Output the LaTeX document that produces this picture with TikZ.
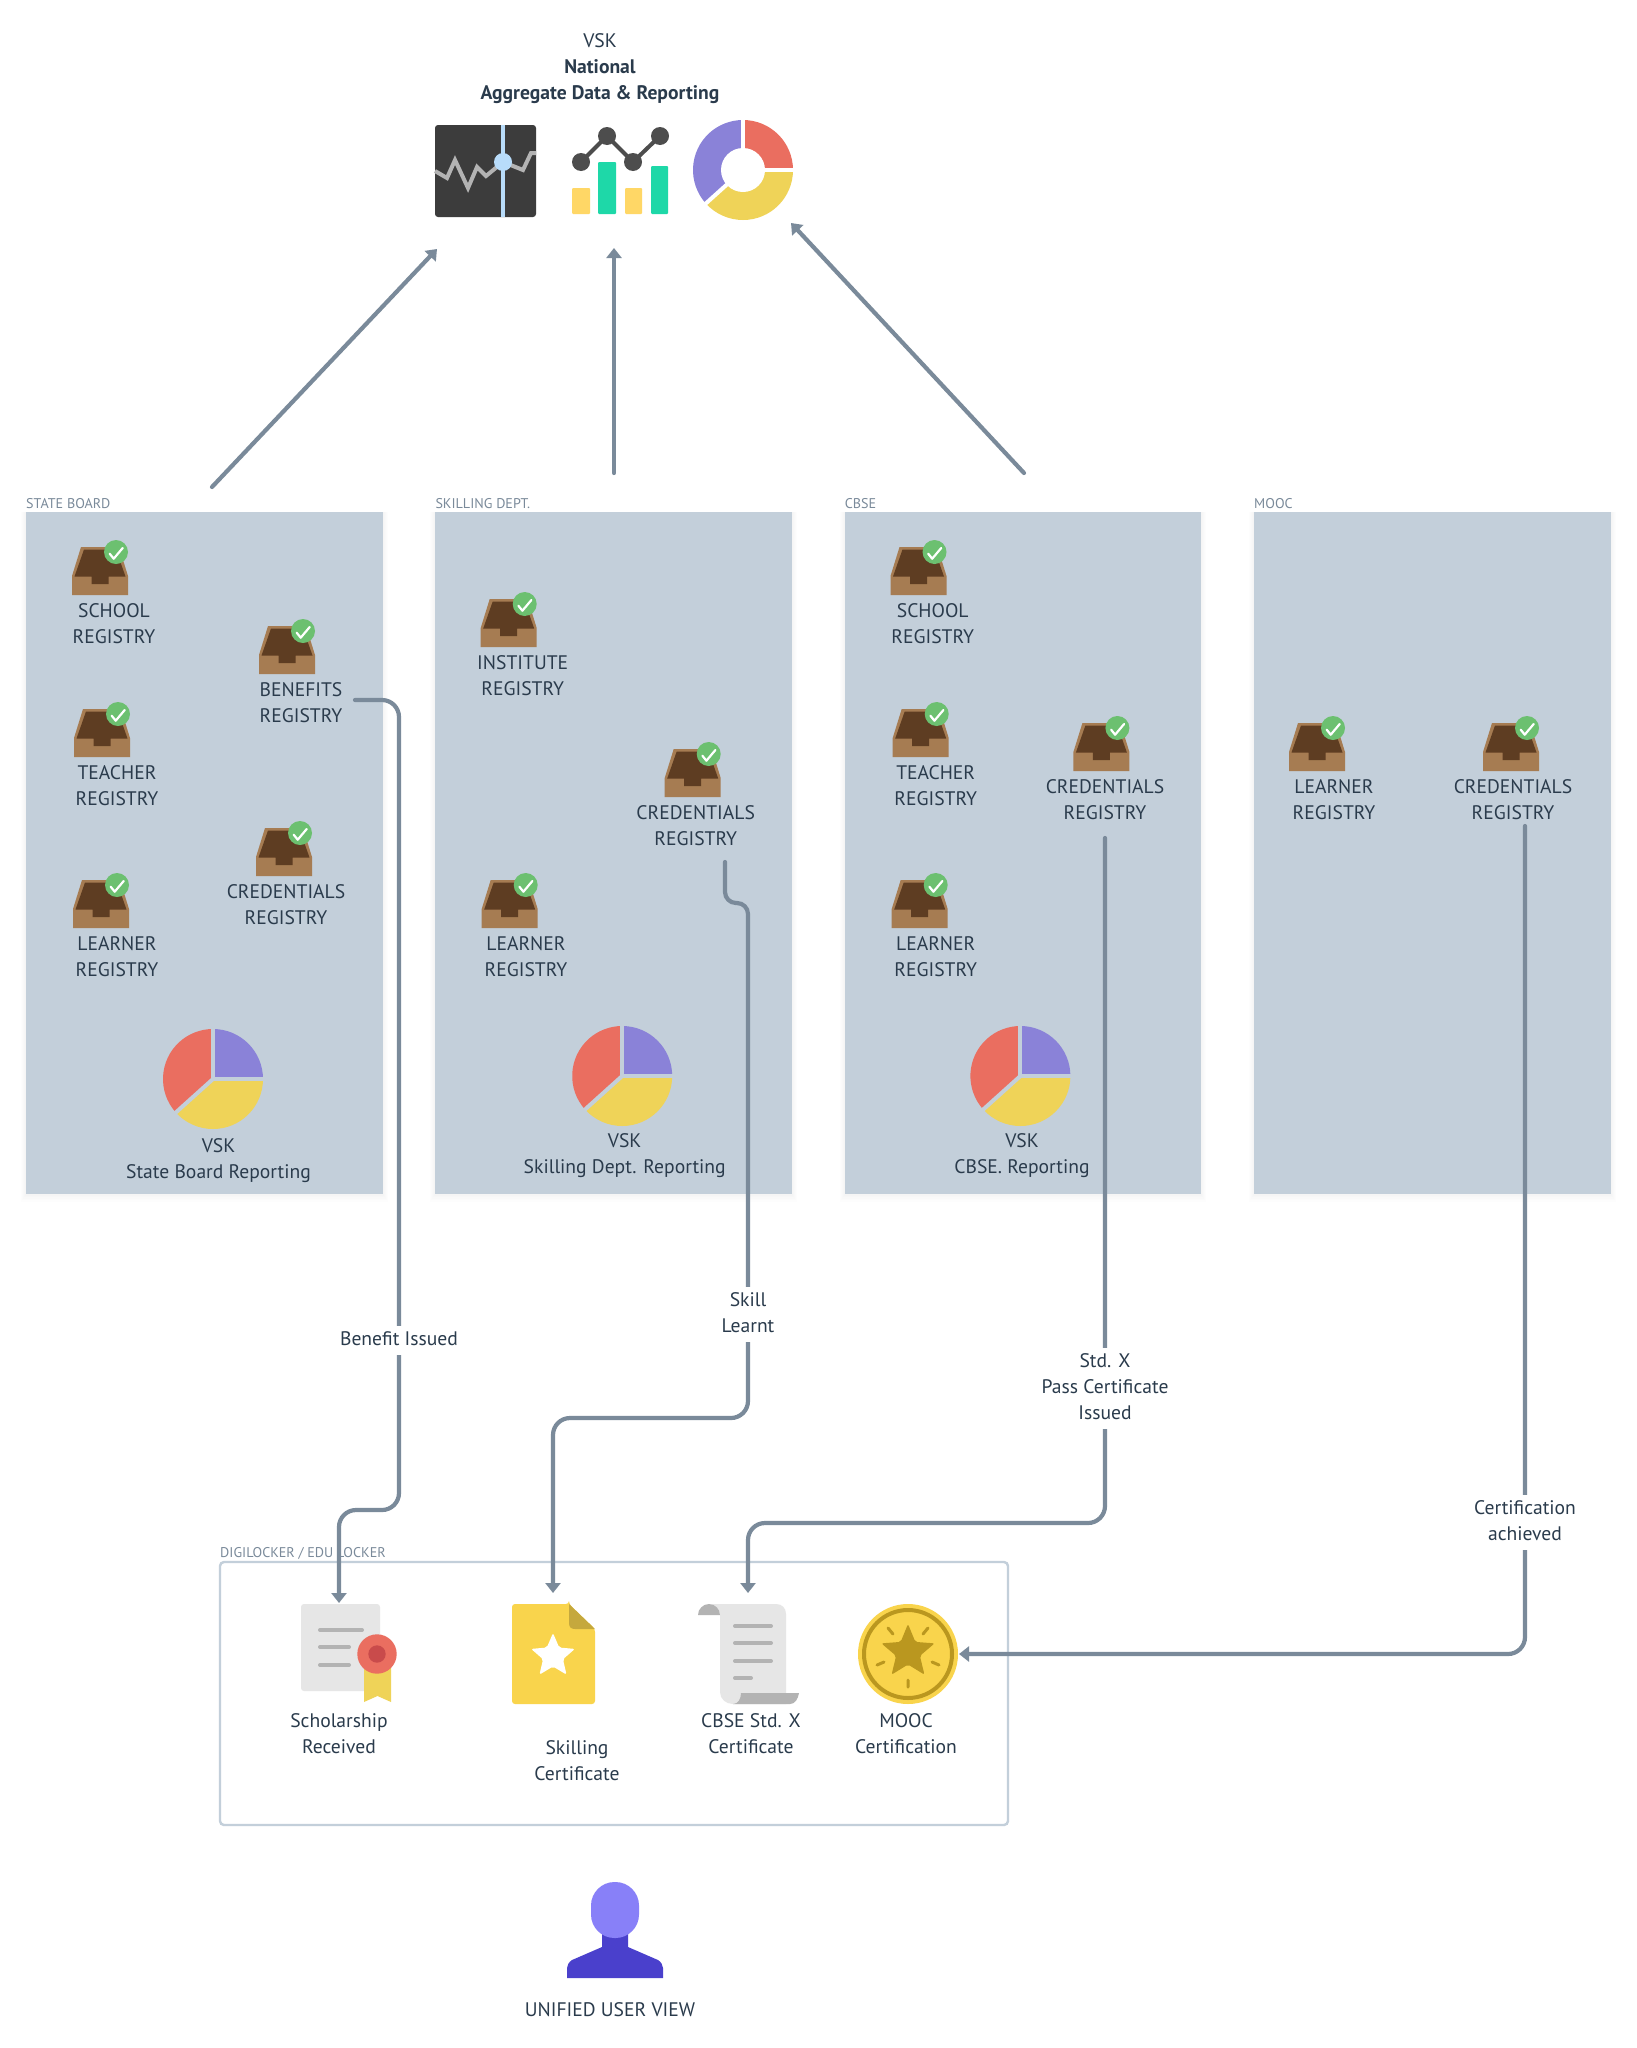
\documentclass[tikz,border=0pt]{standalone}
\usepackage{fontspec}
\setmainfont{PT Sans}
\usetikzlibrary{arrows.meta}
\definecolor{panelc}{HTML}{C3CFDA}
\definecolor{textc}{HTML}{2A3B4C}
\definecolor{connc}{HTML}{7A8A9A}
\definecolor{pur}{HTML}{8A82D8}
\definecolor{yel}{HTML}{EFD358}
\definecolor{red1}{HTML}{EA6E60}
\definecolor{boxl}{HTML}{A67C52}
\definecolor{boxd}{HTML}{5E3D22}
\definecolor{chk}{HTML}{6CC070}
\definecolor{greyl}{HTML}{E6E6E6}
\definecolor{greyd}{HTML}{B3B3B3}
\definecolor{gold}{HTML}{F9D44C}
\definecolor{goldd}{HTML}{BA971F}
\definecolor{darkc}{HTML}{3C3C3C}
\definecolor{slatec}{HTML}{4D4D4D}
\definecolor{bluel}{HTML}{B8DCFA}
\definecolor{barg}{HTML}{1ED8A8}
\definecolor{bary}{HTML}{FFD766}
\definecolor{userb}{HTML}{4A40CC}
\definecolor{userh}{HTML}{8880F8}
\definecolor{sealc}{HTML}{C94B4B}
\definecolor{foldc}{HTML}{C5A83D}
\tikzset{
  lbl/.style={text=textc,font=\fontsize{19.6}{26}\selectfont,align=center,inner sep=0pt,yshift=-2pt},
  connlbl/.style={lbl,fill=white,inner xsep=2pt,inner ysep=1.5pt},
  sect/.style={text=connc,font=\fontsize{14.1}{14}\selectfont,anchor=west,inner sep=0pt,yshift=-.6pt},
  panel/.style={fill=panelc},
  conn/.style={draw=connc,line width=4.2pt,line cap=round,rounded corners=17pt},
  arrowed/.style={-{Triangle[length=10pt,width=15pt]}},
  inbox/.pic={
    \fill[boxl] (9,0)--(47,0)--(56,29)--(56,48)--(0,48)--(0,29)--cycle;
    \fill[boxd] (12,2.5)--(44,2.5)--(53.5,29.5)--(36.5,29.5)--(36.5,37)--(19.5,37)--(19.5,29.5)--(2.5,29.5)--cycle;
    \fill[chk] (44,5) circle[radius=12];
    \draw[white,line width=2.2pt,line cap=round,line join=round] (37.7,6.7)--(41.7,11.7)--(50.7,1);
  }
}
\newcommand\vskpie[3]{% centre x, y, gap colour
  \begin{scope}[shift={(#1,#2)}]
    \fill[pur] (0,0)--(-90:50) arc[start angle=-90,end angle=0,radius=50]--cycle;
    \fill[yel] (0,0)--(0:50) arc[start angle=0,end angle=138,radius=50]--cycle;
    \fill[red1] (0,0)--(138:50) arc[start angle=138,end angle=270,radius=50]--cycle;
    \draw[#3,line width=4pt] (-90:52)--(0,0)--(0:52);
    \draw[#3,line width=4pt] (0,0)--(138:52);
  \end{scope}
}
\begin{document}
\begin{tikzpicture}[x=1pt,y=-1pt]
\useasboundingbox (0,0) rectangle (1637,2048);
\fill[white] (0,0) rectangle (1637,2048);

% ---- national heading
\node[lbl] (natA) at (600,40) {\strut VSK};
\node[lbl] (natB) at (600,66) {\strut\bfseries National};
\node[lbl] (natC) at (600,92) {\strut\bfseries Aggregate Data \& Reporting};

% dashboard icon
\fill[darkc,rounded corners=3pt] (435,125) rectangle (536,217);
\draw[greyd,line width=4pt,line join=miter] (435,171)--(447,178)--(455,160)--(468,188)--(477,167)--(486,176)--(503,162)--(523,170)--(531,153)--(536,153);
\fill[bluel] (501,125) rectangle (505,217);
\fill[bluel] (503,162) circle[radius=9];
% bar / line icon
\fill[bary,rounded corners=1pt] (572,188) rectangle (590,214);
\fill[barg,rounded corners=1pt] (598,162) rectangle (616,214);
\fill[bary,rounded corners=1pt] (625,188) rectangle (642,214);
\fill[barg,rounded corners=1pt] (651,166) rectangle (668,214);
\draw[slatec,line width=4pt] (581,162)--(607,136)--(633,162)--(660,136);
\foreach \px/\py in {581/162,607/136,633/162,660/136}
  \fill[slatec] (\px,\py) circle[radius=9];
% donut icon
\begin{scope}[shift={(743,170)}]
  \fill[red1] (0,0)--(-90:50) arc[start angle=-90,end angle=0,radius=50]--cycle;
  \fill[yel] (0,0)--(0:50) arc[start angle=0,end angle=138,radius=50]--cycle;
  \fill[pur] (0,0)--(138:50) arc[start angle=138,end angle=270,radius=50]--cycle;
  \draw[white,line width=4pt] (-90:52)--(0,0)--(0:52);
  \draw[white,line width=4pt] (0,0)--(138:52);
  \fill[white] (0,0) circle[radius=22];
\end{scope}

% ---- panels
\foreach \px in {26,435.3,844.6,1254}{
  \foreach \e in {1,2,3,4,5}
    \fill[black,opacity=.006] (\px-\e,512) rectangle (\px+356.5+\e,1194+\e*1.5);
  \fill[panel] (\px,512) rectangle (\px+356.5,1194);
}
\node[sect] (secState) at (26,503) {STATE BOARD};
\node[sect] (secSkill) at (435.3,503) {SKILLING DEPT.};
\node[sect] (secCbse) at (844.6,503) {CBSE};
\node[sect] (secMooc) at (1254,503) {MOOC};

% State board
\pic at (72,547) {inbox};   \node[lbl] (stSchool) at (114,623) {\strut SCHOOL\\\strut REGISTRY};
\pic at (259,626) {inbox};  \node[lbl] (stBenefits) at (301,702) {\strut BENEFITS\\\strut REGISTRY};
\pic at (74,709) {inbox};   \node[lbl] (stTeacher) at (117,785) {\strut TEACHER\\\strut REGISTRY};
\pic at (256,828) {inbox};  \node[lbl] (stCred) at (286,904) {\strut CREDENTIALS\\\strut REGISTRY};
\pic at (73,880) {inbox};   \node[lbl] (stLearner) at (117,956) {\strut LEARNER\\\strut REGISTRY};
\vskpie{213}{1079}{panelc}
\node[lbl] (stVsk) at (218.5,1158) {\strut VSK\\\strut State Board Reporting};

% Skilling
\pic at (480.7,599) {inbox};  \node[lbl] (skInst) at (522.7,675.7) {\strut INSTITUTE\\\strut REGISTRY};
\pic at (664.7,749) {inbox};  \node[lbl] (skCred) at (695.7,825.7) {\strut CREDENTIALS\\\strut REGISTRY};
\pic at (481.7,880) {inbox};  \node[lbl] (skLearner) at (526,956) {\strut LEARNER\\\strut REGISTRY};
\vskpie{622.2}{1076}{panelc}
\node[lbl] (skVsk) at (624.7,1153.4) {\strut VSK\\\strut Skilling Dept. Reporting};

% CBSE
\pic at (890.5,547) {inbox};  \node[lbl] (cbSchool) at (932.7,623) {\strut SCHOOL\\\strut REGISTRY};
\pic at (892.7,709) {inbox};  \node[lbl] (cbTeacher) at (935.7,785) {\strut TEACHER\\\strut REGISTRY};
\pic at (1073.4,723) {inbox}; \node[lbl] (cbCred) at (1105,799) {\strut CREDENTIALS\\\strut REGISTRY};
\pic at (891.7,880) {inbox};  \node[lbl] (cbLearner) at (935.7,956) {\strut LEARNER\\\strut REGISTRY};
\vskpie{1020.4}{1076}{panelc}
\node[lbl] (cbVsk) at (1022,1153.4) {\strut VSK\\\strut CBSE. Reporting};

% MOOC
\pic at (1289,723) {inbox}; \node[lbl] (moLearner) at (1334,799) {\strut LEARNER\\\strut REGISTRY};
\pic at (1483,723) {inbox}; \node[lbl] (moCred) at (1513,799) {\strut CREDENTIALS\\\strut REGISTRY};

% ---- locker
\draw[panelc,line width=2.4pt,rounded corners=4pt] (220,1562) rectangle (1008,1825);
\node[sect] (secLocker) at (220,1553) {DIGILOCKER / EDU LOCKER};

% scholarship
\fill[greyl,rounded corners=3pt] (301,1604) rectangle (380,1691);
\foreach \ly/\lx in {1630/362,1647/349,1665/349}
  \draw[greyd,line width=4pt,line cap=round] (320,\ly)--(\lx,\ly);
\fill[yel] (364,1660)--(391,1660)--(391,1702)--(377.5,1696)--(364,1702)--cycle;
\fill[red1] (377,1654) circle[radius=19.7];
\fill[sealc] (377,1654) circle[radius=8.7];
\node[lbl] (lblSchol) at (339,1733.5) {\strut Scholarship\\\strut Received};

% skilling cert
\fill[gold,rounded corners=3pt] (512,1604)--(569,1604)--(569,1604)--(595,1629)--(595,1704)--(512,1704)--cycle;
\fill[foldc] (569,1604)--(595,1629)--(575,1629)..controls(571,1629)and(569,1627)..(569,1623)--cycle;
\begin{scope}[shift={(553,1656)}]
  \fill[white,rounded corners=2pt] (-90:23)--(-54:10.5)--(-18:23)--(18:10.5)--(54:23)--(90:10.5)--(126:23)--(162:10.5)--(198:23)--(234:10.5)--cycle;
\end{scope}
\node[lbl] (lblSkill) at (577,1760) {\strut Skilling\\\strut Certificate};

% scroll
\fill[greyl] (709,1604)--(776,1604)..controls(782,1604)and(786,1608)..(786,1614)--(786,1704)--(733,1704)..controls(726,1704)and(720,1699)..(720,1692)--(720,1615)..controls(720,1609)and(715,1604)..(709,1604)--cycle;
\fill[greyd] (698,1615)..controls(698,1609)and(703,1604)..(709,1604)..controls(715,1604)and(720,1609)..(720,1615)--cycle;
\fill[greyd] (799,1693)--(741,1693)..controls(741,1699)and(738,1704)..(733,1704)--(790,1704)..controls(795,1704)and(798,1699)..(799,1693)--cycle;
\foreach \ly/\lx in {1626/771,1643/771,1661/771,1678/751}
  \draw[greyd,line width=4pt,line cap=round] (735,\ly)--(\lx,\ly);
\node[lbl] (lblCbse) at (751,1733.5) {\strut CBSE Std. X\\\strut Certificate};

% medal
\fill[gold] (908,1654) circle[radius=50];
\draw[goldd,line width=4pt] (908,1654) circle[radius=44];
\begin{scope}[shift={(908,1652)}]
  \fill[goldd,rounded corners=2pt] (-90:28)--(-54:12.5)--(-18:28)--(18:12.5)--(54:28)--(90:12.5)--(126:28)--(162:12.5)--(198:28)--(234:12.5)--cycle;
\end{scope}
\draw[goldd,line width=3pt,line cap=round] (888,1628)--(893,1634) (928,1628)--(923,1634) (877,1665)--(884,1662) (939,1665)--(932,1662) (908,1680)--(908,1687);
\node[lbl] (lblMooc) at (906,1733.5) {\strut MOOC\\\strut Certification};

% user
\fill[userb] (602,1930)--(628,1930)--(628,1947)--(658,1960)..controls(661,1962)and(663,1965)..(663,1968)--(663,1978)--(567,1978)--(567,1968)..controls(567,1965)and(569,1962)..(572,1960)--(602,1947)--cycle;
\fill[userh,rounded corners=23.5pt] (591,1882) rectangle (639,1938);
\node[lbl] (lblUser) at (610,2009) {\strut UNIFIED USER VIEW};

% ---- connector ends
\coordinate (fromState) at (212,487);
\coordinate (toDash) at (437,249);
\coordinate (fromSkill) at (614,473);
\coordinate (toBars) at (614,248);
\coordinate (fromCbse) at (1024,473);
\coordinate (toDonut) at (791,223);
\coordinate (outBenefits) at (355,700);
\coordinate (inSchol) at (339,1603);
\coordinate (outSkill) at (725,862);
\coordinate (inSkill) at (553,1593);
\coordinate (outCbse) at (1105,838);
\coordinate (inCbse) at (748,1593);
\coordinate (outMooc) at (1525,826);
\coordinate (inMooc) at (959,1654);

\draw[conn,arrowed] (fromState)--(toDash);
\draw[conn,arrowed] (fromSkill)--(toBars);
\draw[conn,arrowed] (fromCbse)--(toDonut);
\draw[conn,arrowed] (outBenefits)--(399,700)--(399,1510)--(339,1510)--(inSchol);
\draw[conn,arrowed] (outSkill)[rounded corners=11pt]--(725,903)--(748,903)--(748,1000)[rounded corners=17pt]--(748,1418)--(553,1418)--(inSkill);
\draw[conn,arrowed] (outCbse)--(1105,1523)--(748,1523)--(inCbse);
\draw[conn,arrowed] (outMooc)--(1525,1654)--(inMooc);

\node[connlbl] (cBenefit) at (399,1338) {\strut Benefit Issued};
\node[connlbl] (cSkill) at (748,1312) {\strut Skill\\\strut Learnt};
\node[connlbl] (cStd) at (1105,1386) {\strut Std. X\\\strut Pass Certificate\\\strut Issued};
\node[connlbl] (cCert) at (1525,1520) {\strut Certification\\\strut achieved};
\end{tikzpicture}
\end{document}
